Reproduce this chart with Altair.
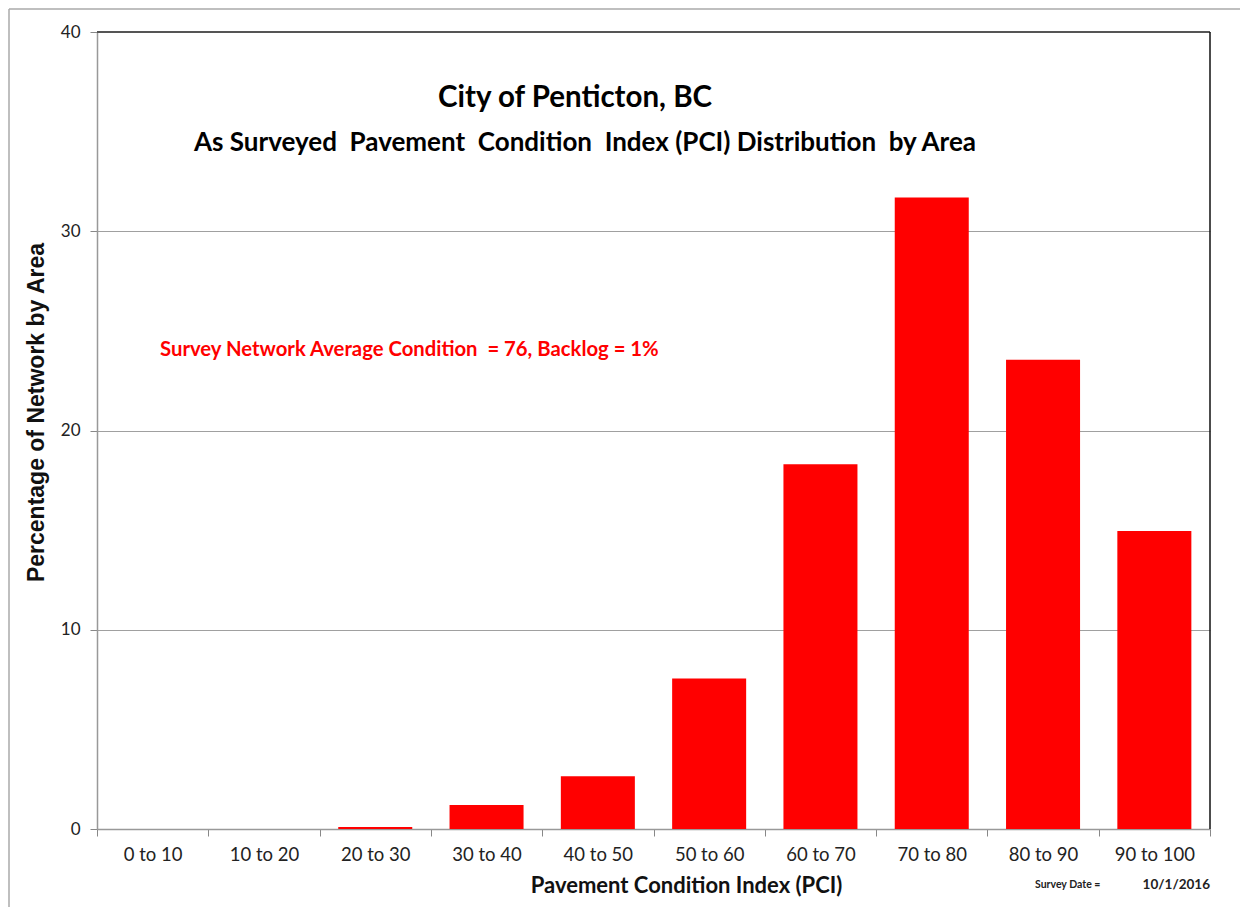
import altair as alt
import pandas as pd

categories = ["0 to 10", "10 to 20", "20 to 30", "30 to 40", "40 to 50",
              "50 to 60", "60 to 70", "70 to 80", "80 to 90", "90 to 100"]
values = [0.0, 0.0, 0.1, 1.2, 2.65, 7.55, 18.3, 31.7, 23.55, 14.95]
y_ticks = [0, 10, 20, 30, 40]

title_text = "City of Penticton, BC"
subtitle_text = "As Surveyed\u00a0 Pavement\u00a0 Condition\u00a0 Index (PCI) Distribution\u00a0 by Area"
note_text = "Survey Network Average Condition\u00a0 = 76, Backlog = 1%"
date_label = "Survey Date ="
date_value = "10/1/2016"

W, H = 1113, 797
FONT = "Lato"

df = pd.DataFrame({"cat": categories, "val": values})

xscale = alt.Scale(domain=categories, paddingInner=0, paddingOuter=0)
yscale = alt.Scale(domain=[0, 40], nice=False)

bars = alt.Chart(df).mark_bar(color="#FF0000", width=alt.RelativeBandSize(0.665)).encode(
    x=alt.X("cat:N", scale=xscale, sort=categories,
            axis=alt.Axis(title="Pavement Condition Index (PCI)", labelAngle=0,
                          labelFontSize=18.5, labelColor="#222", labelFont=FONT,
                          labelPadding=9, ticks=True, tickBand="extent",
                          tickSize=7, tickColor="#888", domainColor="#999", domainWidth=1.5,
                          titleFont=FONT, titleFontSize=22, titleFontWeight="bold",
                          titleColor="#111", titlePadding=12, titleX=589, grid=False)),
    y=alt.Y("val:Q", scale=yscale,
            axis=alt.Axis(title="Percentage of Network by Area", values=y_ticks,
                          labelFontSize=17, labelColor="#222", labelFont=FONT,
                          labelPadding=10, tickSize=7, tickColor="#888",
                          domainColor="#999", domainWidth=1.5,
                          gridColor="#a0a0a0", gridWidth=1.2,
                          titleFont="Liberation Sans", titleFontSize=23,
                          titleFontWeight="bold", titleColor="#111",
                          titlePadding=12, titleY=380)),
)

def txt(text, x, y, size, color="#000", align="center", weight="bold", font=FONT):
    return alt.Chart(pd.DataFrame({"t": [text]})).mark_text(
        align=align, baseline="middle", fontSize=size, fontWeight=weight,
        color=color, font=font
    ).encode(text="t:N", x=alt.value(x), y=alt.value(y))

title = txt(title_text, 478, 66, 29.5)
subtitle = txt(subtitle_text, 488, 111, 26)
note = txt(note_text, 63, 318, 20.3, color="#FF0000", align="left")
d1 = txt(date_label, 938, 853, 10.5, color="#222", align="left")
d2 = txt(date_value, 1113, 853, 13.5, color="#222", align="right")

top_rule = alt.Chart(pd.DataFrame({"a": [0]})).mark_rule(color="#555", strokeWidth=2).encode(
    x=alt.value(0), x2=alt.value(W), y=alt.value(0))
right_rule = alt.Chart(pd.DataFrame({"a": [0]})).mark_rule(color="#111", strokeWidth=1.5).encode(
    x=alt.value(W), y=alt.value(0), y2=alt.value(H))
frame_top = alt.Chart(pd.DataFrame({"a": [0]})).mark_rule(color="#aaa", strokeWidth=1.5).encode(
    x=alt.value(-88), x2=alt.value(1160), y=alt.value(-23))
frame_left = alt.Chart(pd.DataFrame({"a": [0]})).mark_rule(color="#aaa", strokeWidth=1.5).encode(
    x=alt.value(-88), y=alt.value(-23), y2=alt.value(900))

chart = alt.layer(bars, top_rule, right_rule, frame_top, frame_left,
                  title, subtitle, note, d1, d2).properties(
    width=W, height=H,
    autosize=alt.AutoSizeParams(type="none"),
    padding={"left": 89, "top": 24, "right": 30, "bottom": 78},
    background="white",
).configure_view(stroke=None)

chart.save("out.html", embed_options={"renderer": "svg", "actions": False})
